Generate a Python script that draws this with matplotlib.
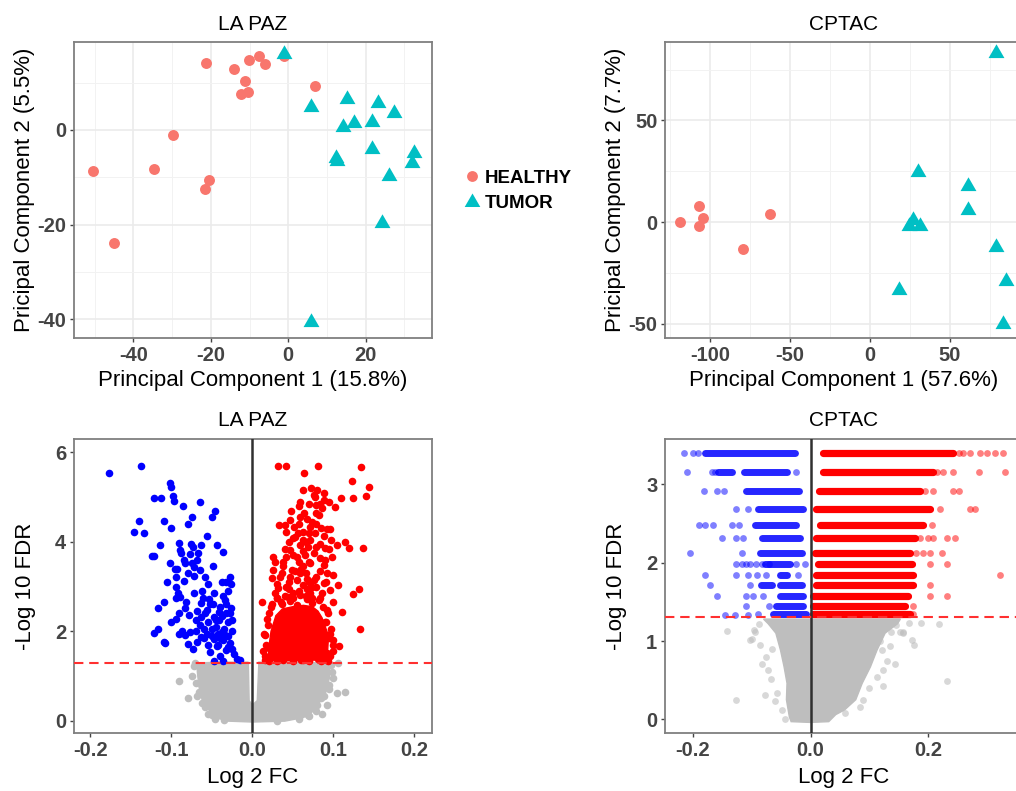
import matplotlib
matplotlib.use("Agg")
import matplotlib.pyplot as plt
from matplotlib.lines import Line2D

plt.rcParams["font.family"] = ["Liberation Sans", "DejaVu Sans"]

# ---- PCA data ----
lapaz_healthy_pc1 = [-21.3, -14.0, -10.2, -7.6, -6.1, -1.2, -11.1, -12.3, -10.4, 6.8,
                     -29.8, -34.6, -50.4, -20.4, -21.4, -44.9]
lapaz_healthy_pc2 = [14.2, 12.9, 14.7, 15.6, 13.9, 15.7, 10.4, 7.5, 8.1, 9.3,
                     -1.0, -8.3, -8.7, -10.5, -12.5, -23.9]
lapaz_tumor_pc1 = [-1.0, 5.8, 15.1, 23.1, 27.3, 14.1, 16.9, 21.7, 21.7, 12.2,
                   12.6, 32.4, 31.9, 26.0, 24.1, 5.8]
lapaz_tumor_pc2 = [16.0, 4.8, 6.5, 5.8, 3.5, 0.6, 1.4, 1.7, -4.1, -5.9,
                   -6.5, -4.9, -7.0, -9.8, -19.6, -40.7]

cptac_healthy_pc1 = [-118.8, -106.7, -104.6, -107.1, -62.5, -79.2]
cptac_healthy_pc2 = [0.0, 7.8, 2.2, -1.7, 4.1, -13.2]
cptac_tumor_pc1 = [78.8, 30.2, 61.5, 61.5, 27.1, 24.6, 31.3, 78.8, 84.8, 18.3, 83.3]
cptac_tumor_pc2 = [83.3, 24.8, 17.9, 6.1, 0.8, -1.7, -1.7, -12.1, -29.0, -33.6, -50.2]

# ---- LA PAZ volcano ----
lp_blue_fc = [-0.177, -0.138, -0.102, -0.100, -0.122, -0.113, -0.098, -0.097, -0.086, -0.065,
              -0.046, -0.050, -0.075, -0.109, -0.140, -0.100, -0.080, -0.146, -0.134, -0.056,
              -0.114, -0.090, -0.089, -0.073, -0.064, -0.044, -0.036, -0.124, -0.121, -0.077,
              -0.067, -0.102, -0.083, -0.074, -0.072, -0.049, -0.093, -0.065, -0.059, -0.094,
              -0.085, -0.072, -0.028, -0.026, -0.032, -0.094, -0.092, -0.072, -0.094, -0.089,
              -0.109, -0.117, -0.083, -0.078, -0.064, -0.061, -0.054, -0.049, -0.036, -0.041,
              -0.032, -0.026, -0.025, -0.056, -0.094, -0.070, -0.063, -0.048, -0.041, -0.032,
              -0.116, -0.122, -0.108, -0.091, -0.083, -0.077, -0.073, -0.068, -0.056, -0.052,
              -0.047, -0.042, -0.036, -0.032, -0.023, -0.028, -0.019, -0.015, -0.048, -0.036,
              -0.038, -0.064, -0.080, -0.044, -0.045, -0.040, -0.035, -0.050, -0.030, -0.038,
              -0.055, -0.060, -0.043, -0.030, -0.025, -0.065, -0.070, -0.052, -0.034, -0.028,
              -0.047, -0.062, -0.080, -0.085, -0.088, -0.076, -0.090, -0.100, -0.087, -0.109,
              -0.040, -0.045, -0.035, -0.050, -0.030, -0.055, -0.060, -0.040, -0.025, -0.058,
              -0.068, -0.030, -0.038, -0.055, -0.068, -0.095, -0.105, -0.082]
lp_blue_fdr = [5.53, 5.70, 5.32, 5.22, 4.97, 4.99, 5.03, 4.91, 4.80, 4.90,
               4.69, 4.55, 4.55, 4.47, 4.47, 4.30, 4.39, 4.21, 4.19, 4.12,
               3.92, 3.98, 3.82, 3.89, 3.93, 3.92, 3.77, 3.69, 3.68, 3.72,
               3.74, 3.53, 3.53, 3.52, 3.43, 3.45, 3.39, 3.37, 3.22, 3.22,
               3.13, 3.24, 3.22, 3.06, 3.11, 3.00, 2.85, 2.86, 2.74, 2.77,
               2.65, 2.51, 2.53, 2.36, 2.64, 2.75, 2.72, 2.62, 2.79, 2.44,
               2.61, 2.51, 2.25, 2.48, 2.27, 2.25, 2.33, 2.33, 2.25, 2.40,
               2.04, 1.97, 1.73, 1.95, 1.92, 1.99, 1.60, 1.77, 1.95, 1.54,
               1.82, 1.95, 1.80, 1.58, 1.50, 1.73, 1.37, 1.36, 1.34, 1.34,
               1.99, 1.88, 1.71, 1.66, 2.10, 1.85, 2.05, 1.90, 2.20, 2.35,
               2.20, 2.05, 1.70, 1.90, 2.00, 2.15, 2.00, 2.60, 2.70, 2.40,
               2.85, 2.90, 3.30, 3.60, 3.75, 3.95, 2.40, 2.20, 2.00, 1.75,
               2.55, 2.25, 1.95, 2.05, 1.65, 1.70, 1.85, 1.45, 1.60, 2.40,
               2.45, 2.90, 3.10, 3.05, 3.60, 3.40, 3.10, 2.65]

lp_red_fc = [0.031, 0.042, 0.081, 0.134, 0.064, 0.123, 0.144, 0.140, 0.124, 0.109,
             0.102, 0.063, 0.072, 0.080, 0.077, 0.088, 0.094, 0.059, 0.057, 0.079,
             0.086, 0.048, 0.059, 0.068, 0.079, 0.047, 0.033, 0.040, 0.051, 0.071,
             0.079, 0.096, 0.092, 0.042, 0.056, 0.062, 0.077, 0.088, 0.050, 0.063,
             0.071, 0.104, 0.114, 0.119, 0.136, 0.059, 0.069, 0.079, 0.090, 0.047,
             0.026, 0.028, 0.025, 0.038, 0.042, 0.055, 0.065, 0.084, 0.098, 0.038,
             0.049, 0.063, 0.071, 0.088, 0.034, 0.047, 0.059, 0.067, 0.079, 0.092,
             0.106, 0.131, 0.124, 0.096, 0.032, 0.042, 0.063, 0.079, 0.088, 0.030,
             0.044, 0.059, 0.071, 0.084, 0.012, 0.018, 0.099, 0.110, 0.092, 0.133,
             0.016, 0.021, 0.024, 0.107, 0.100, 0.096, 0.092, 0.088, 0.016, 0.038,
             0.063, 0.081, 0.023, 0.036, 0.055, 0.073, 0.090, 0.028, 0.046, 0.067,
             # edge of the dense cloud
             0.015, 0.017, 0.014, 0.019, 0.021, 0.024, 0.013,
             0.096, 0.099, 0.094, 0.097, 0.091, 0.093, 0.087, 0.100,
             0.030, 0.040, 0.050, 0.058, 0.066, 0.074, 0.082, 0.035, 0.045, 0.070,
             0.020, 0.030, 0.050, 0.060, 0.070, 0.085, 0.093,
             # upper, looser part
             0.045, 0.052, 0.058, 0.062, 0.066, 0.070, 0.074, 0.082, 0.085, 0.083,
             0.076, 0.070, 0.060, 0.055, 0.050, 0.068, 0.076, 0.084, 0.090, 0.094,
             0.040, 0.036, 0.030, 0.053, 0.058, 0.064, 0.070, 0.076, 0.088, 0.083,
             0.045, 0.050, 0.066, 0.073, 0.086, 0.091, 0.028, 0.024, 0.100, 0.097]
lp_red_fdr = [5.70, 5.70, 5.70, 5.68, 5.53, 5.35, 5.22, 5.03, 4.97, 4.97,
              4.79, 5.16, 5.20, 5.16, 5.01, 4.94, 4.90, 4.90, 4.80, 4.82,
              4.75, 4.68, 4.56, 4.50, 4.64, 4.49, 4.38, 4.38, 4.34, 4.34,
              4.39, 4.29, 4.29, 4.23, 4.19, 4.23, 4.19, 4.12, 4.08, 4.04,
              4.04, 3.93, 4.00, 3.86, 3.86, 3.93, 3.89, 3.89, 3.86, 3.82,
              3.67, 3.56, 3.37, 3.56, 3.67, 3.67, 3.71, 3.63, 3.67, 3.45,
              3.37, 3.45, 3.52, 3.48, 3.22, 3.22, 3.30, 3.18, 3.22, 3.30,
              3.04, 2.94, 2.83, 2.92, 2.96, 3.00, 3.04, 3.00, 3.07, 2.74,
              2.77, 2.81, 2.85, 2.74, 2.66, 2.27, 2.66, 2.44, 2.48, 2.06,
              1.92, 1.62, 1.43, 1.66, 1.80, 1.95, 1.51, 1.37, 1.36, 1.36,
              1.36, 1.37, 2.55, 2.62, 2.58, 2.64, 2.20, 2.10, 2.68, 2.72,
              1.45, 1.70, 1.95, 2.15, 2.40, 2.60, 1.55,
              1.45, 1.70, 1.85, 2.05, 2.20, 2.40, 2.55, 1.55,
              2.75, 2.80, 2.75, 2.90, 2.80, 2.75, 2.70, 2.65, 2.95, 3.10,
              1.33, 1.34, 1.33, 1.35, 1.33, 1.34, 1.33,
              3.10, 3.35, 3.55, 3.80, 4.00, 4.20, 4.45, 4.60, 4.30, 3.95,
              3.75, 3.55, 3.40, 3.15, 2.85, 2.95, 3.15, 3.35, 3.60, 3.85,
              3.85, 3.30, 3.05, 4.10, 4.40, 4.65, 4.85, 5.05, 5.10, 4.85,
              4.00, 3.70, 3.30, 3.00, 2.85, 3.10, 2.85, 3.20, 3.25, 4.05]

# outline of the dense red cloud and of the grey cloud
lp_red_core_fc = [0.020, 0.040, 0.090, 0.093, 0.094, 0.090, 0.086, 0.081, 0.074,
                  0.063, 0.050, 0.037, 0.029, 0.023, 0.020]
lp_red_core_fdr = [1.36, 1.34, 1.36, 1.60, 1.90, 2.10, 2.30, 2.45, 2.55,
                   2.58, 2.55, 2.50, 2.35, 2.00, 1.60]
lp_grey_env_fc = [-0.068, -0.040, -0.005, -0.004, 0.000, 0.006, 0.008, 0.050, 0.095, 0.095,
                  0.091, 0.085, 0.073, 0.063, 0.040, 0.000, -0.030, -0.042, -0.053, -0.062,
                  -0.066, -0.068]
lp_grey_env_fdr = [1.29, 1.31, 1.31, 0.45, 0.35, 0.45, 1.31, 1.31, 1.29, 0.95,
                   0.65, 0.46, 0.18, 0.07, -0.01, -0.03, -0.01, 0.05, 0.22, 0.46,
                   0.76, 1.10]
lp_grey_fc = [-0.091, -0.079, 0.106, 0.104, 0.114, 0.086, 0.085, 0.069, -0.074, -0.068,
              -0.058, 0.098, 0.095, 0.092, 0.078, -0.050, -0.072, -0.060,
              -0.070, -0.066, -0.071, -0.062, -0.055, -0.046, 0.097, 0.099, 0.094, 0.088,
              0.080, 0.070, 0.058, -0.035, 0.030]
lp_grey_fdr = [0.89, 0.50, 1.28, 0.61, 0.65, 0.16, 0.50, 0.13, 1.00, 0.55,
               0.30, 1.10, 0.80, 0.35, 0.22, 0.12, 1.22, 1.20,
               0.85, 0.65, 1.28, 0.40, 0.15, 0.03, 1.25, 0.95, 0.70, 0.55,
               0.35, 0.10, 0.03, 0.01, -0.01]

# ---- CPTAC volcano: FDR levels are discrete, points pile up in rows ----
row_fdr = [3.40, 3.16, 2.91, 2.69, 2.48, 2.31, 2.13, 1.98, 1.84, 1.71, 1.57, 1.45, 1.34]
red_row_lo = [0.022, 0.021, 0.015, 0.010, 0.016, 0.010, 0.008, 0.013, 0.010, 0.010, 0.005, 0.005, 0.005]
red_row_hi = [0.243, 0.209, 0.186, 0.203, 0.192, 0.178, 0.169, 0.172, 0.175, 0.175, 0.166, 0.161, 0.170]

blue_seg_fdr = [3.40, 3.16, 3.16, 2.91, 2.69, 2.48, 2.31, 2.13, 1.98, 1.84, 1.71, 1.71, 1.57, 1.45, 1.34]
blue_seg_lo = [-0.180, -0.157, -0.114, -0.109, -0.089, -0.094, -0.083, -0.086, -0.078, -0.052, -0.084, -0.052, -0.052, -0.058, -0.064]
blue_seg_hi = [-0.026, -0.134, -0.040, -0.019, -0.012, -0.024, -0.018, -0.015, -0.035, -0.040, -0.066, -0.015, -0.012, -0.012, -0.007]

cp_red_fc = [0.252, 0.260, 0.271, 0.288, 0.300, 0.314, 0.328,
             0.215, 0.226, 0.243, 0.286, 0.331,
             0.195, 0.209, 0.243, 0.252,
             0.220, 0.271, 0.280,
             0.206,
             0.186, 0.200, 0.209, 0.232, 0.246,
             0.180, 0.192, 0.203, 0.223,
             0.203, 0.232,
             0.323, 0.203, 0.203, 0.232, 0.175, 0.175]
cp_red_fdr = [3.40, 3.40, 3.40, 3.40, 3.40, 3.40, 3.40,
              3.16, 3.16, 3.16, 3.16, 3.16,
              2.91, 2.91, 2.91, 2.91,
              2.69, 2.69, 2.69,
              2.48,
              2.31, 2.31, 2.31, 2.31, 2.31,
              2.13, 2.13, 2.13, 2.13,
              1.98, 1.98,
              1.84, 1.71, 1.57, 1.57, 1.45, 1.34]

cp_blue_fc = [-0.216, -0.200, -0.192,
              -0.211, -0.168, -0.163, -0.024,
              -0.181, -0.160, -0.147,
              -0.126, -0.106,
              -0.190, -0.180, -0.166, -0.134, -0.121,
              -0.151, -0.126, -0.115,
              -0.205, -0.117,
              -0.126, -0.117, -0.109, -0.103, -0.092, -0.083, -0.070, -0.024, -0.009,
              -0.180, -0.126, -0.106, -0.091, -0.075, -0.021,
              -0.171, -0.103,
              -0.160, -0.109, -0.098, -0.081,
              -0.109, -0.070,
              -0.146, -0.129, -0.106, -0.089]
cp_blue_fdr = [3.40, 3.40, 3.40,
               3.16, 3.16, 3.16, 3.16,
               2.91, 2.91, 2.91,
               2.69, 2.69,
               2.48, 2.48, 2.48, 2.48, 2.48,
               2.31, 2.31, 2.31,
               2.13, 2.13,
               1.98, 1.98, 1.98, 1.98, 1.98, 1.98, 1.98, 1.98, 1.98,
               1.84, 1.84, 1.84, 1.84, 1.84, 1.84,
               1.71, 1.71,
               1.57, 1.57, 1.57, 1.57,
               1.45, 1.45,
               1.33, 1.33, 1.33, 1.34]

cp_grey_env_fc = [-0.080, 0.000, 0.153, 0.148, 0.127, 0.113, 0.102, 0.088, 0.077, 0.058,
                  0.043, 0.031, 0.000, -0.033, -0.036, -0.041, -0.040, -0.045, -0.051, -0.059,
                  -0.072]
cp_grey_env_fdr = [1.28, 1.28, 1.28, 1.22, 1.10, 0.88, 0.67, 0.46, 0.25, 0.12,
                   0.06, -0.03, -0.04, -0.03, 0.03, 0.25, 0.46, 0.67, 0.88, 1.10,
                   1.22]
cp_grey_fc = [-0.143, -0.126, 0.219, 0.188, 0.168, 0.177, 0.153, 0.123, 0.144, 0.232,
              -0.103, -0.094, -0.086, -0.075, -0.072, -0.068, -0.077, -0.057, -0.060, -0.049,
              -0.043, 0.124, 0.130, 0.135, 0.122, 0.113, 0.090, 0.084, 0.058, 0.137, 0.157,
              -0.097, -0.100, 0.158, 0.172, -0.088, -0.082, -0.066, 0.145, 0.118, 0.100]
cp_grey_fdr = [1.13, 0.25, 1.22, 1.23, 1.23, 0.95, 1.11, 0.42, 0.71, 0.49,
               1.01, 1.12, 0.95, 0.80, 0.63, 0.52, 0.31, 0.33, 0.23, 0.12,
               0.01, 0.63, 0.74, 0.93, 0.88, 0.54, 0.25, 0.16, 0.08, 1.12, 1.10,
               1.14, 1.02, 1.12, 1.01, 1.22, 0.70, 0.90, 1.20, 1.00, 0.40]

W, H = 1016, 791
HEALTHY = "#F8766D"
TUMOR = "#00BFC4"
GREY = "#BEBEBE"
TICKC = "#444444"
tri = [(-1, -0.577), (1, -0.577), (0, 1.155)]


def place(l, t, r, b):
    return fig.add_axes([l / W, 1 - b / H, (r - l) / W, (b - t) / H])


def style(ax, xt, xl, yt, yl, grid=False, xminor=None, yminor=None):
    ax.set_xticks(xt)
    ax.set_xticklabels(xl)
    ax.set_yticks(yt)
    ax.set_yticklabels(yl)
    for s in ax.spines.values():
        s.set_color("#7F7F7F")
        s.set_linewidth(1.3)
    ax.tick_params(length=3, width=1.0, color=TICKC, pad=2.5, labelsize=14.5,
                   labelcolor=TICKC)
    for lab in ax.get_xticklabels() + ax.get_yticklabels():
        lab.set_fontweight("bold")
    if grid:
        ax.set_axisbelow(True)
        ax.grid(True, color="#EBEBEB", lw=1.2)
        if xminor is not None:
            ax.set_xticks(xminor, minor=True)
        if yminor is not None:
            ax.set_yticks(yminor, minor=True)
        ax.grid(True, which="minor", color="#F2F2F2", lw=0.7)
        ax.tick_params(which="minor", length=0)


fig = plt.figure(figsize=(W / 100, H / 100), dpi=100)

# ---- top left: LA PAZ PCA ----
ax1 = place(74, 42, 432, 338)
ax1.scatter(lapaz_healthy_pc1, lapaz_healthy_pc2, s=62, color=HEALTHY, lw=0, zorder=3)
ax1.scatter(lapaz_tumor_pc1, lapaz_tumor_pc2, s=175, marker=tri, color=TUMOR, lw=0, zorder=3)
ax1.set_xlim(-55.3, 37.1)
ax1.set_ylim(-44.0, 18.6)
style(ax1, [-40, -20, 0, 20], ["-40", "-20", "0", "20"], [-40, -20, 0], ["-40", "-20", "0"],
      grid=True, xminor=[-50, -30, -10, 10, 30], yminor=[-30, -10, 10])
ax1.set_title("LA PAZ", fontsize=15, pad=9)
ax1.set_xlabel("Principal Component 1 (15.8%)", fontsize=16, labelpad=4)
ax1.set_ylabel("Pricipal Component 2 (5.5%)", fontsize=16, labelpad=2)

# ---- top right: CPTAC PCA ----
ax2 = place(665, 42, 1023, 338)
ax2.scatter(cptac_healthy_pc1, cptac_healthy_pc2, s=62, color=HEALTHY, lw=0, zorder=3)
ax2.scatter(cptac_tumor_pc1, cptac_tumor_pc2, s=175, marker=tri, color=TUMOR, lw=0, zorder=3)
ax2.set_xlim(-128.1, 95.6)
ax2.set_ylim(-57.0, 88.6)
style(ax2, [-100, -50, 0, 50], ["-100", "-50", "0", "50"], [-50, 0, 50], ["-50", "0", "50"],
      grid=True, xminor=[-125, -75, -25, 25, 75], yminor=[-25, 25, 75])
ax2.set_title("CPTAC", fontsize=15, pad=9)
ax2.set_xlabel("Principal Component 1 (57.6%)", fontsize=16, labelpad=4)
ax2.set_ylabel("Pricipal Component 2 (7.7%)", fontsize=16, labelpad=2)

# legend between the two PCA panels
handles = [Line2D([], [], marker="o", ls="", ms=7.8, color=HEALTHY, mew=0),
           Line2D([], [], marker=tri, ls="", ms=13, color=TUMOR, mew=0)]
fig.legend(handles, ["HEALTHY", "TUMOR"], loc="center left",
           bbox_to_anchor=(451 / W, 1 - 191 / H), frameon=False,
           prop={"weight": "bold", "size": 13.5}, handletextpad=0.1,
           handlelength=1.2, labelspacing=0.45, borderpad=0)

# ---- bottom left: LA PAZ volcano ----
ax3 = place(74, 439, 432, 733)
ax3.fill(lp_grey_env_fc, lp_grey_env_fdr, color=GREY, lw=1, zorder=1)
ax3.scatter(lp_grey_fc, lp_grey_fdr, s=30, color=GREY, lw=0, zorder=1)
ax3.fill(lp_red_core_fc, lp_red_core_fdr, color="#FF0000", lw=1, zorder=2)
ax3.scatter(lp_red_fc, lp_red_fdr, s=30, color="#FF0000", lw=0, zorder=2)
ax3.scatter(lp_blue_fc, lp_blue_fdr, s=30, color="#0000FF", lw=0, zorder=2)
ax3.axvline(0, color="#303030", lw=1.8, zorder=4)
ax3.axhline(1.301, color="#FF3030", lw=1.5, dashes=(4.5, 2.8), zorder=4)
ax3.set_xlim(-0.2202, 0.2217)
ax3.set_ylim(-0.275, 6.3)
style(ax3, [-0.2, -0.1, 0.0, 0.1, 0.2], ["-0.2", "-0.1", "0.0", "0.1", "0.2"],
      [0, 2, 4, 6], ["0", "2", "4", "6"])
ax3.set_title("LA PAZ", fontsize=15, pad=9)
ax3.set_xlabel("Log 2 FC", fontsize=16, labelpad=5)
ax3.set_ylabel("-Log 10 FDR", fontsize=16, labelpad=14)

# ---- bottom right: CPTAC volcano ----
ax4 = place(665, 439, 1023, 733)
ax4.fill(cp_grey_env_fc, cp_grey_env_fdr, color=GREY, lw=1, zorder=1)
ax4.scatter(cp_grey_fc, cp_grey_fdr, s=24, color=GREY, alpha=0.6, lw=0, zorder=1)
rows = ax4.hlines(row_fdr, red_row_lo, red_row_hi, colors="#FF0000", lw=5.2, zorder=2)
rows.set_capstyle("round")
brows = ax4.hlines(blue_seg_fdr, blue_seg_lo, blue_seg_hi, colors="#0000FF", lw=5.0,
                   alpha=0.85, zorder=2)
brows.set_capstyle("round")
ax4.scatter(cp_red_fc, cp_red_fdr, s=24, color="#FF0000", alpha=0.5, lw=0, zorder=2)
ax4.scatter(cp_blue_fc, cp_blue_fdr, s=24, color="#0000FF", alpha=0.5, lw=0, zorder=2)
ax4.axvline(0, color="#303030", lw=1.8, zorder=4)
ax4.axhline(1.301, color="#FF3030", lw=1.5, dashes=(4.5, 2.8), zorder=4)
ax4.set_xlim(-0.2477, 0.3617)
ax4.set_ylim(-0.175, 3.58)
style(ax4, [-0.2, 0.0, 0.2], ["-0.2", "0.0", "0.2"], [0, 1, 2, 3], ["0", "1", "2", "3"])
ax4.set_title("CPTAC", fontsize=15, pad=9)
ax4.set_xlabel("Log 2 FC", fontsize=16, labelpad=5)
ax4.set_ylabel("-Log 10 FDR", fontsize=16, labelpad=14)

fig.savefig("out.png", dpi=100)
